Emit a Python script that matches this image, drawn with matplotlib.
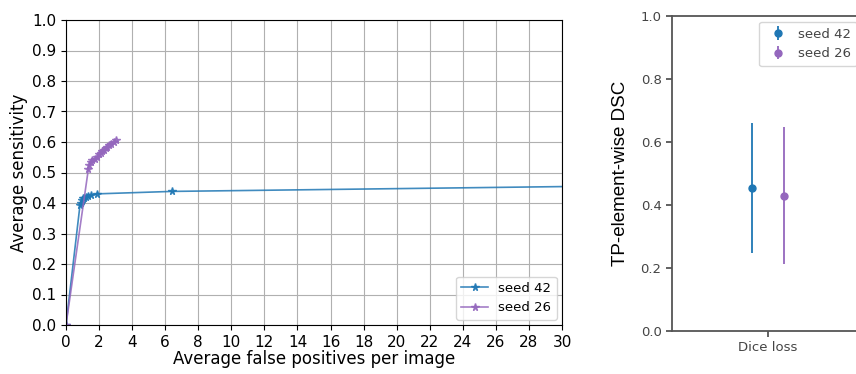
import numpy as np
import matplotlib
matplotlib.use('Agg')
import matplotlib.pyplot as plt

# FROC curves (avg false positives per image vs avg sensitivity)
fp_42 = [0.0, 0.85, 0.9, 0.95, 1.0, 1.1, 1.2, 1.35, 1.5, 1.9, 6.4, 40.0]
sens_42 = [0.0, 0.395, 0.40, 0.41, 0.415, 0.418, 0.42, 0.422, 0.425, 0.43, 0.438, 0.4605]

fp_26 = [0.0, 1.35, 1.4, 1.5, 1.6, 1.75, 1.9, 2.0, 2.1, 2.2, 2.3, 2.4, 2.5, 2.6, 2.75, 2.9, 3.0]
sens_26 = [0.0, 0.51, 0.525, 0.535, 0.54, 0.545, 0.55, 0.56, 0.565, 0.57, 0.575, 0.58,
           0.585, 0.59, 0.595, 0.60, 0.605]

# TP-element-wise DSC mean / std
seeds = ['seed 42', 'seed 26']
dsc_mean = [0.455, 0.43]
dsc_err = [0.206, 0.217]
xcat = ['Dice loss']

c42 = '#1f77b4'
c26 = '#9467bd'

fig = plt.figure(figsize=(8.56, 3.74), dpi=100)

ax = fig.add_axes([66/856, 1-325/374, (562-66)/856, (325-20)/374])
ax.plot(fp_42, sens_42, marker='*', color=c42, label='seed 42', markersize=5.5, lw=1.2, alpha=0.85)
ax.plot(fp_26, sens_26, marker='*', color=c26, label='seed 26', markersize=5.5, lw=1.2, alpha=0.85)
ax.set_xlim(0, 30)
ax.set_ylim(0, 1)
ax.set_xticks(np.arange(0, 31, 2))
ax.set_yticks(np.arange(0, 1.01, 0.1))
ax.grid(True, color='#b0b0b0', lw=0.8)
ax.tick_params(labelsize=11)
ax.set_xlabel('Average false positives per image', fontsize=12, labelpad=0)
ax.set_ylabel('Average sensitivity', fontsize=12, labelpad=3)
ax.legend(loc='lower right', fontsize=9.5, borderaxespad=0.4)

# right panel, cut off by figure edge
ax2 = fig.add_axes([672/856, 1-331/374, (870-672)/856, (331-16)/374])
offs = [-0.083, 0.083]
for i, (s, c) in enumerate(zip(seeds, [c42, c26])):
    ax2.errorbar(offs[i], dsc_mean[i], yerr=dsc_err[i], fmt='o', color=c,
                 markersize=5, elinewidth=1.3, label=s)
ax2.set_xlim(-0.5, 0.531)
ax2.set_ylim(0, 1)
ax2.set_xticks([0])
ax2.set_xticklabels(xcat)
ax2.set_yticks(np.arange(0, 1.01, 0.2))
for sp in ax2.spines.values():
    sp.set_color('#555555')
    sp.set_linewidth(1.3)
ax2.tick_params(labelsize=9.5, colors='#555555', labelcolor='#444444', width=1.3, length=4)
ax2.set_ylabel('TP-element-wise DSC', fontsize=13.5, family=['Liberation Sans', 'DejaVu Sans'], labelpad=8)
ax2.legend(loc='upper left', fontsize=9.5, labelcolor='#444444', handletextpad=0.5,
           bbox_to_anchor=(0.44, 0.982), borderaxespad=0, borderpad=0.45)

fig.savefig('out.png', dpi=100)
